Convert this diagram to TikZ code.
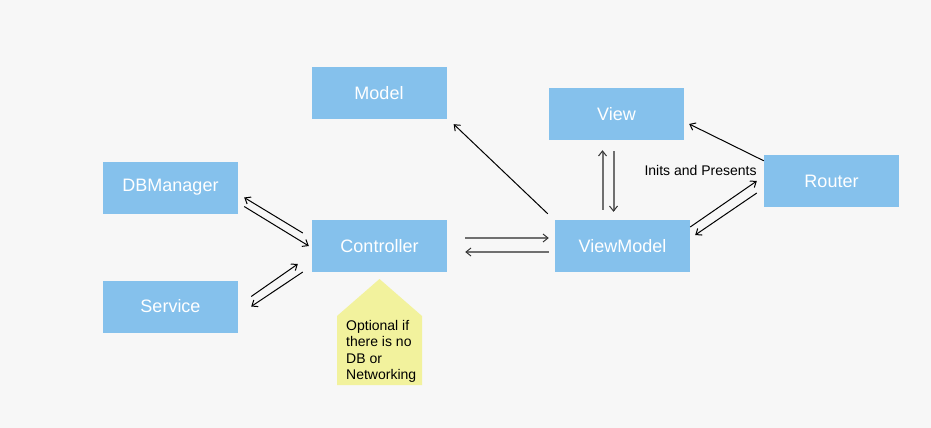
\documentclass[tikz,border=0pt]{standalone}
\usepackage{fontspec}
\setmainfont{Liberation Sans}
\usepackage{tikz}
\usetikzlibrary{arrows.meta, calc, positioning}
\definecolor{bgcol}{HTML}{F7F7F7}
\definecolor{boxcol}{HTML}{85C1EC}
\definecolor{notecol}{HTML}{F2F29D}
\definecolor{linkgray}{HTML}{707070}
\begin{document}
\begin{tikzpicture}[x=1pt,y=-1pt,>={Straight Barb[length=5pt,width=8pt]},
  block/.style={fill=boxcol, text=white, minimum width=135pt, minimum height=52pt, inner sep=0pt, font=\fontsize{18}{21}\selectfont},
  link/.style={->, black, line width=1pt},
  biglink/.style={-{Straight Barb[length=5pt,width=8pt,line width=1pt,color=black!80]}, linkgray, line width=2pt},
  smalltext/.style={font=\fontsize{14}{16.5}\selectfont, text=black, inner sep=0pt}]
  \fill[bgcol] (0,0) rectangle (931,428);
  \node[block] (model) at (379,93) {Model};
  \node[block] (view) at (616.5,114) {View};
  \node[block] (dbm) at (170.5,187.5) {DBManager};
  \node[block] (ctrl) at (379.5,246) {Controller};
  \node[block] (vm) at (622.5,246) {ViewModel};
  \node[block] (router) at (831.5,181) {Router};
  \node[block] (service) at (170.5,306.5) {Service};
  % note under the controller
  \fill[notecol] (337,316) -- (379.5,279) -- (422,316) -- (422,385) -- (337,385) -- cycle;
  \node[smalltext, anchor=north west, align=left] (note) at (346,320) {Optional if\\there is no\\DB or\\Networking};
  \node[smalltext, anchor=east] (inits) at ($(router.west)+(-7,-11)$) {Inits and Presents};
  \draw[link] ($(ctrl.west)+(-9,-13)$) -- ($(dbm.east)+(6,10)$);
  \draw[link] ($(dbm.east)+(6,19)$) -- ($(ctrl.west)+(-3,0)$);
  \draw[link] ($(service.east)+(13,-10)$) -- ($(ctrl.west)+(-14,18)$);
  \draw[link] ($(ctrl.west)+(-9,26)$) -- ($(service.east)+(13,0)$);
  \draw[biglink] ($(ctrl.east)+(18,-8)$) -- ($(vm.west)+(-6,-8)$);
  \draw[biglink] ($(vm.west)+(-6,6)$) -- ($(ctrl.east)+(18,6)$);
  \draw[link] ($(vm.north west)+(-7,-6)$) -- ($(model.south east)+(7,5)$);
  \draw[biglink] ($(vm.north)+(-20,-10)$) -- ($(view.south)+(-14,10)$);
  \draw[biglink] ($(view.south)+(-3,11)$) -- ($(vm.north)+(-9,-8)$);
  \draw[link] ($(router.north west)+(0,6)$) -- ($(view.east)+(5,10)$);
  \draw[link] ($(vm.east)+(0,-19)$) -- ($(router.west)+(-7,0)$);
  \draw[link] ($(router.west)+(-7,12)$) -- ($(vm.east)+(5,-11)$);
\end{tikzpicture}
\end{document}
